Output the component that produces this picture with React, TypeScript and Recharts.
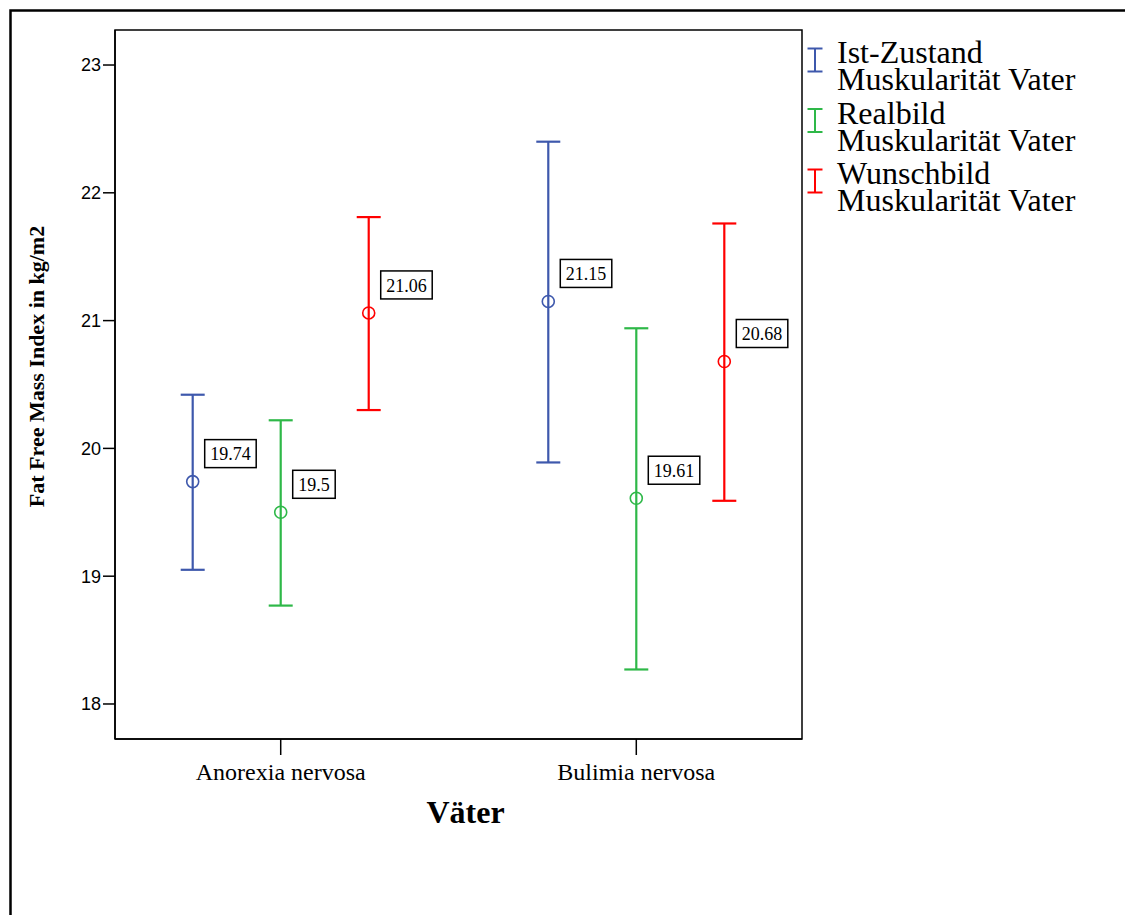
import React from 'react';
import { ScatterChart, Scatter, XAxis, YAxis, ErrorBar, ReferenceArea } from 'recharts';

// Groups on the x axis
const categories = ['Anorexia nervosa', 'Bulimia nervosa'];

// Means with the lower / upper ends of their error bars, per group
const istMean = [19.74, 21.15];
const istLow = [19.05, 19.89];
const istHigh = [20.42, 22.4];

const realMean = [19.5, 19.61];
const realLow = [18.77, 18.27];
const realHigh = [20.22, 20.94];

const wunschMean = [21.06, 20.68];
const wunschLow = [20.3, 19.59];
const wunschHigh = [21.81, 21.76];

const yTicks = [18, 19, 20, 21, 22, 23];

const legendLines = [
  ['Ist-Zustand', 'Muskularität Vater'],
  ['Realbild', 'Muskularität Vater'],
  ['Wunschbild', 'Muskularität Vater'],
];

const yTitle = 'Fat Free Mass Index in kg/m2';
const xTitle = 'Väter';

const SERIF = '"Liberation Serif", "Times New Roman", serif';
const SANS = '"Liberation Sans", Arial, sans-serif';

const COLORS = ['#3E58AC', '#2EB848', '#FF0000'];
const OFFSETS = [-0.2475, 0, 0.2475];
const X_DOMAIN: [number, number] = [0.534, 2.466];
const Y_DOMAIN: [number, number] = [17.726, 23.274];

const build = (mean: number[], low: number[], high: number[], k: number) =>
  categories.map((c, i) => ({
    group: c,
    x: i + 1 + OFFSETS[k],
    y: mean[i],
    err: [mean[i] - low[i], high[i] - mean[i]],
  }));

const series = [
  { name: legendLines[0].join(' '), color: COLORS[0], data: build(istMean, istLow, istHigh, 0) },
  { name: legendLines[1].join(' '), color: COLORS[1], data: build(realMean, realLow, realHigh, 1) },
  { name: legendLines[2].join(' '), color: COLORS[2], data: build(wunschMean, wunschLow, wunschHigh, 2) },
];

// Hollow mean marker plus its boxed value label
const MeanMarker = (props: any) => {
  const { cx, cy, payload, color } = props;
  if (cx == null || cy == null) return null;
  const label = String(payload.y);
  let tw = 0;
  for (const ch of label) tw += ch === '.' ? 4.5 : 9;
  const w = tw + 11;
  const h = 28;
  const left = cx + 12;
  const bottom = cy - 14;
  return (
    <g>
      <circle cx={cx} cy={cy} r={6} fill="none" stroke={color} strokeWidth={1.6} />
      <rect x={left} y={bottom - h} width={w} height={h} fill="#fff" stroke="#000" strokeWidth={1.5} />
      <text x={left + 5.5} y={bottom - 7.3} fontFamily={SERIF} fontSize={18} fill="#000">
        {label}
      </text>
    </g>
  );
};

const YTitle = (props: any) => {
  const vb = props.viewBox || { x: 55, y: 30, width: 60, height: 709 };
  const cx = vb.x - 19;
  const cy = vb.y + vb.height / 2 - 18;
  return (
    <text
      x={cx}
      y={cy}
      transform={`rotate(-90, ${cx}, ${cy})`}
      textAnchor="middle"
      dominantBaseline="central"
      fontFamily={SERIF}
      fontWeight="bold"
      fontSize={22}
      fill="#000"
    >
      {yTitle}
    </text>
  );
};

const XTitle = (props: any) => {
  const vb = props.viewBox || { x: 115, y: 739, width: 687, height: 60 };
  return (
    <text
      x={vb.x + vb.width / 2 + 7}
      y={vb.y + 84}
      textAnchor="middle"
      fontFamily={SERIF}
      fontWeight="bold"
      fontSize={32}
      fill="#000"
    >
      {xTitle}
    </text>
  );
};

const LegendBlock = () => {
  const x0 = 815;
  const firstBaseline = 63;
  const step = 60.5;
  return (
    <g>
      {legendLines.map((lines, i) => {
        const base = firstBaseline + i * step;
        const mid = base - 3;
        return (
          <g key={i}>
            <line x1={x0} y1={mid - 11.5} x2={x0} y2={mid + 11.5} stroke={COLORS[i]} strokeWidth={2} />
            <line x1={x0 - 7.5} y1={mid - 11.5} x2={x0 + 7.5} y2={mid - 11.5} stroke={COLORS[i]} strokeWidth={2} />
            <line x1={x0 - 7.5} y1={mid + 11.5} x2={x0 + 7.5} y2={mid + 11.5} stroke={COLORS[i]} strokeWidth={2} />
            <text x={837} y={base} fontFamily={SERIF} fontSize={32} fill="#000">
              {lines.map((t, j) => (
                <tspan key={j} x={837} dy={j === 0 ? 0 : 27}>
                  {t}
                </tspan>
              ))}
            </text>
          </g>
        );
      })}
    </g>
  );
};

export default function App() {
  return (
    <div style={{ position: 'fixed', left: 0, top: 0, width: 1125, height: 915, background: '#fff' }}>
      <ScatterChart
        width={1125}
        height={915}
        margin={{ top: 30, right: 323, bottom: 116, left: 55 }}
      >
        <XAxis
          type="number"
          dataKey="x"
          domain={X_DOMAIN}
          ticks={[1, 2]}
          allowDataOverflow
          height={60}
          tickFormatter={(v: number) => categories[Math.round(v) - 1] ?? ''}
          tickSize={16}
          tickMargin={8}
          tickLine={{ stroke: '#000', strokeWidth: 1.5 }}
          axisLine={{ stroke: '#000', strokeWidth: 1.5 }}
          tick={{ fill: '#000', fontFamily: SERIF, fontSize: 24 }}
          label={<XTitle />}
        />
        <YAxis
          type="number"
          dataKey="y"
          domain={Y_DOMAIN}
          ticks={yTicks}
          allowDataOverflow
          width={60}
          tickSize={12}
          tickMargin={2}
          tickLine={{ stroke: '#000', strokeWidth: 1.5 }}
          axisLine={{ stroke: '#000', strokeWidth: 1.5 }}
          tick={{ fill: '#000', fontFamily: SANS, fontSize: 18 }}
          label={<YTitle />}
        />
        {/* plot frame */}
        <ReferenceArea
          x1={X_DOMAIN[0]}
          x2={X_DOMAIN[1]}
          y1={Y_DOMAIN[0]}
          y2={Y_DOMAIN[1]}
          fill="none"
          fillOpacity={0}
          stroke="#000"
          strokeWidth={1.5}
          ifOverflow="visible"
        />
        {series.map((s) => (
          <Scatter
            key={s.name}
            name={s.name}
            data={s.data}
            isAnimationActive={false}
            shape={(p: any) => <MeanMarker {...p} color={s.color} />}
          >
            <ErrorBar dataKey="err" direction="y" width={12} stroke={s.color} strokeWidth={2.2} />
          </Scatter>
        ))}
      </ScatterChart>
      <svg
        width={1125}
        height={915}
        style={{ position: 'absolute', left: 0, top: 0, pointerEvents: 'none' }}
      >
        <rect x={10.5} y={10.5} width={1200} height={1000} fill="none" stroke="#000" strokeWidth={2.5} />
        <LegendBlock />
      </svg>
    </div>
  );
}
